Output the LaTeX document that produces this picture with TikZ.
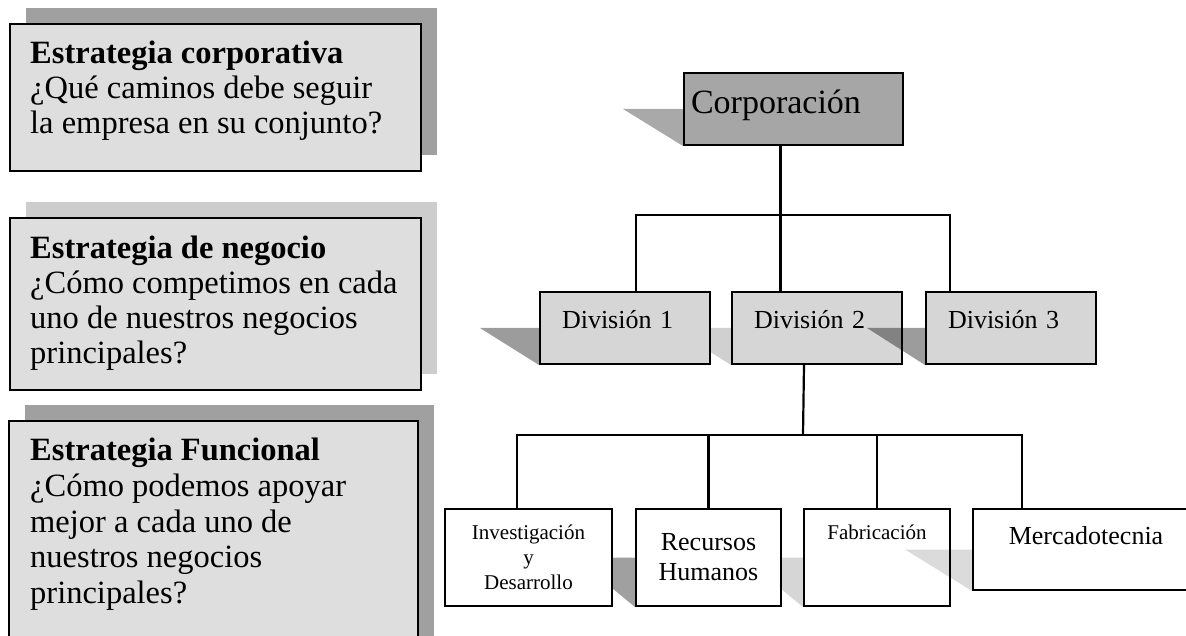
\documentclass[tikz,border=0pt]{standalone}
\usepackage{fontspec}
\setmainfont{Liberation Serif}
\usetikzlibrary{shadows,backgrounds}

\definecolor{levelfill}{HTML}{DEDEDE}
\definecolor{shadedark}{HTML}{A0A0A0}
\definecolor{shadelight}{HTML}{CDCDCD}
\definecolor{corpfill}{HTML}{A6A6A6}
\definecolor{divfill}{HTML}{D6D6D6}

\begin{document}
\begin{tikzpicture}
        [%%%%%%%%%%%%%%%%%%%%%%%%%%%%%%
        x=1pt, y=-1pt,
        levelbox/.style={rectangle,draw=black,line width=2pt,fill=levelfill,anchor=north west,inner sep=0pt},
        leveltext/.style={anchor=north west,align=left,inner sep=0pt,font=\fontsize{32.5}{35}\selectfont},
        orgbox/.style={rectangle,draw=black,line width=2pt,anchor=north west,inner sep=0pt},
        divbox/.style={orgbox,fill=divfill,minimum height=72,text width=126,inner xsep=22,align=left,
          text height=36,text depth=36,font=\fontsize{26}{30}\selectfont},
        unitbox/.style={orgbox,fill=white,align=center},
        wire/.style={line width=2.2pt},
        ]%%%%%%%%%%%%%%%%%%%%%%%%%%%%%%

        \useasboundingbox (0,0) rectangle (1186,636);
        \clip (0,0) rectangle (1186,636);

        % strategy levels
        \node[levelbox,minimum width=411,minimum height=147,
          drop shadow={shadow xshift=16pt,shadow yshift=16pt,opacity=1,fill=shadedark}] (corpbox) at (9,23) {};
        \node[leveltext] (corptext) at (30,41)
          {\textbf{Estrategia corporativa}\\¿Qué caminos debe seguir\\la empresa en su conjunto?};

        \node[levelbox,minimum width=411,minimum height=172,
          drop shadow={shadow xshift=16pt,shadow yshift=16pt,opacity=1,fill=shadelight}] (busbox) at (9,217) {};
        \node[leveltext] (bustext) at (30,236)
          {\textbf{Estrategia de negocio}\\¿Cómo competimos en cada\\uno de nuestros negocios\\principales?};

        \node[levelbox,minimum width=409,minimum height=240,
          drop shadow={shadow xshift=16pt,shadow yshift=16pt,opacity=1,fill=shadedark}] (funbox) at (8,420) {};
        \node[leveltext,font=\fontsize{32.5}{35.7}\selectfont] (funtext) at (30,438)
          {\textbf{Estrategia Funcional}\\¿Cómo podemos apoyar\\mejor a cada uno de\\nuestros negocios\\principales?};

        % organisation chart
        \node[orgbox,fill=corpfill,text width=205,inner xsep=7,align=left,text height=41,text depth=31,
          font=\fontsize{34}{40}\selectfont] (corp) at (683,72) {Corporación};

        \node[divbox] (div1) at (539,291) {División 1};
        \node[divbox] (div2) at (731,291) {División 2};
        \node[divbox] (div3) at (925,291) {División 3};

        \node[unitbox,minimum width=167,minimum height=97,font=\fontsize{21}{25}\selectfont] (rd) at (444,508)
          {Investigación\\y\\Desarrollo};
        \node[unitbox,minimum width=145,minimum height=97,font=\fontsize{26}{30}\selectfont] (hr) at (635,508)
          {Recursos\\Humanos};
        \node[unitbox,minimum width=146,text height=30,text depth=67,font=\fontsize{21}{25}\selectfont] (fab) at (803,508)
          {Fabricación};
        \node[unitbox,minimum width=226,text height=35,text depth=46,font=\fontsize{26}{30}\selectfont] (mkt) at (972,508)
          {Mercadotecnia};

        % shadows
        \begin{scope}[on background layer]
        \foreach \shd/\len/\tone in {corp/60/A9A9A9,div1/59/9C9C9C,div2/59/D0D0D0,hr/60/A0A0A0,fab/60/D6D6D6}{
          \definecolor{shdtone}{HTML}{\tone}
          \fill[shdtone] ([xshift=-\len]\shd.west) -- (\shd.west) -- (\shd.south west) -- cycle;
        }
        \end{scope}
        \foreach \shd/\len/\op in {div3/58/0.39,mkt/67/0.14}
          \fill[black,opacity=\op] ([xshift=-\len]\shd.west) -- (\shd.west) -- (\shd.south west) -- cycle;

        % connectors
        \coordinate (upperbus) at (779.5,215);
        \coordinate (lowerbus) at (803,435);
        \draw[wire] ([xshift=-13]corp.south) -- ([xshift=-36.5]div2.north);
        \draw[wire] ([xshift=11]div1.north) |- (upperbus) -| ([xshift=-61]div3.north);
        \draw[wire] ([xshift=-13]div2.south) -- (lowerbus);
        \draw[wire] ([xshift=-11.5]rd.north) |- (lowerbus) -| ([xshift=50]mkt.north west);
        \foreach \unit in {hr,fab}
          \draw[wire] (\unit.north) -- (\unit.north |- lowerbus);
      \end{tikzpicture}
\end{document}
